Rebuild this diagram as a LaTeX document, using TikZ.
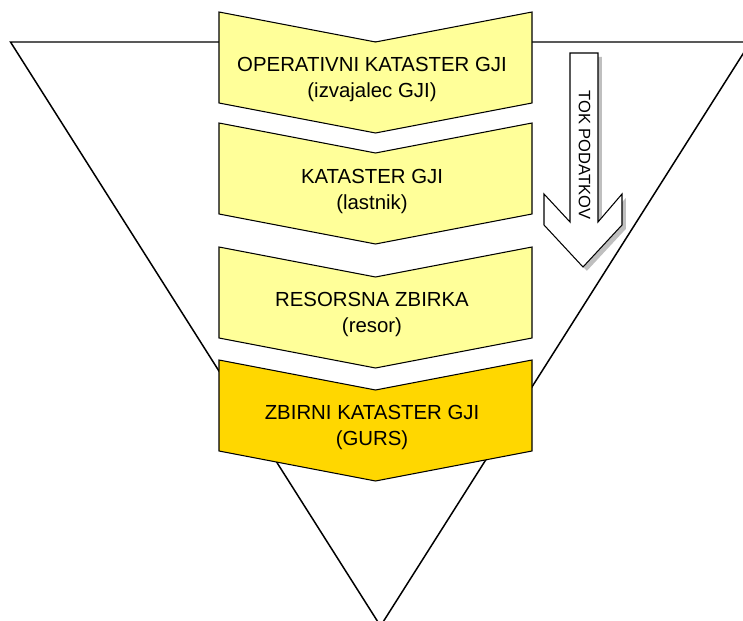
\documentclass[tikz,border=0pt]{standalone}
\usepackage{fontspec}
\setmainfont{Liberation Sans}
\usetikzlibrary{shadows}

\definecolor{paleyellow}{RGB}{255,255,153}
\definecolor{goldlevel}{RGB}{255,215,0}

\begin{document}
\begin{tikzpicture}[scale=0.2]
\tikzstyle{every node}+=[inner sep=0pt]
\tikzstyle{level}=[draw=black, line width=0.6pt, line join=miter, fill=paleyellow]
\tikzstyle{leveltext}=[align=center, font=\fontsize{11.6}{14.4}\selectfont]
\useasboundingbox (0,0) rectangle (74.3,-62);
\clip (0,0) rectangle (74.3,-62);
% background triangle
\draw [black, line width=0.85pt] (1.05,-4.2) -- (75.05,-4.2) -- (38.05,-62.6) -- cycle;
% levels
\draw [level] (21.9,-1.2) -- (37.55,-4.2) -- (53.2,-1.2) -- (53.2,-10.3) -- (37.55,-13.3) -- (21.9,-10.3) -- cycle;
\node [leveltext] (operativni) at (37.2,-7.95) {OPERATIVNI KATASTER GJI\\(izvajalec GJI)};
\draw [level] (21.9,-12.3) -- (37.55,-15.3) -- (53.2,-12.3) -- (53.2,-21.4) -- (37.55,-24.4) -- (21.9,-21.4) -- cycle;
\node [leveltext] (kataster) at (37.2,-19.15) {KATASTER GJI\\(lastnik)};
\draw [level] (21.9,-24.7) -- (37.55,-27.7) -- (53.2,-24.7) -- (53.2,-33.8) -- (37.55,-36.8) -- (21.9,-33.8) -- cycle;
\node [leveltext] (resorsna) at (37.2,-31.45) {RESORSNA ZBIRKA\\(resor)};
\draw [level, fill=goldlevel] (21.9,-36.0) -- (37.55,-39.0) -- (53.2,-36.0) -- (53.2,-45.1) -- (37.55,-48.1) -- (21.9,-45.1) -- cycle;
\node [leveltext] (zbirni) at (37.2,-42.75) {ZBIRNI KATASTER GJI\\(GURS)};
% data flow arrow
\draw [black, line width=0.6pt, fill=white, drop shadow={shadow xshift=2.2pt, shadow yshift=-2.2pt, fill=black!25, opacity=1}]
  (57,-5.3) -- (59.8,-5.3) -- (59.8,-22.2) -- (62.2,-19.4) -- (62.2,-22.5) -- (58.3,-26.7)
  -- (54.4,-22.5) -- (54.4,-19.4) -- (57,-22.2) -- cycle;
\node [rotate=-90, font=\fontsize{9.4}{11}\selectfont] (tokpodatkov) at (58.45,-15.5) {TOK PODATKOV};
\end{tikzpicture}
\end{document}
